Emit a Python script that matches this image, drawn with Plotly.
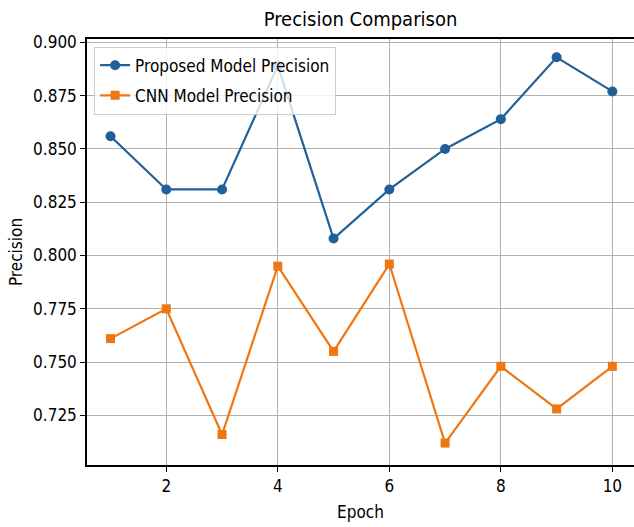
import plotly.graph_objects as go

epochs = [1, 2, 3, 4, 5, 6, 7, 8, 9, 10]
proposed_precision = [0.856, 0.831, 0.831, 0.889, 0.808, 0.831, 0.850, 0.864, 0.893, 0.877]
cnn_precision = [0.761, 0.775, 0.716, 0.795, 0.755, 0.796, 0.712, 0.748, 0.728, 0.748]
y_ticks = [0.725, 0.750, 0.775, 0.800, 0.825, 0.850, 0.875, 0.900]
x_ticks = [2, 4, 6, 8, 10]

FONT = "DejaVu Sans Condensed, Liberation Sans Narrow, DejaVu Sans, sans-serif"
BLUE = "#1f5f9a"
ORANGE = "#ef7610"

fig = go.Figure()
fig.add_trace(go.Scatter(
    x=epochs, y=proposed_precision, mode="lines+markers",
    name="Proposed Model Precision", legendgroup="a",
    line=dict(color=BLUE, width=2.2),
    marker=dict(symbol="circle", size=10, color=BLUE),
))
fig.add_trace(go.Scatter(
    x=epochs, y=cnn_precision, mode="lines+markers",
    name="CNN Model Precision", legendgroup="b",
    line=dict(color=ORANGE, width=2.2),
    marker=dict(symbol="square", size=9, color=ORANGE),
))

axis_common = dict(
    showline=True, linecolor="black", linewidth=1.5,
    ticks="outside", ticklen=5, tickcolor="black", tickwidth=1,
    showgrid=True, gridcolor="#b0b0b0", gridwidth=1,
    zeroline=False, tickfont=dict(family=FONT, size=17, color="black"),
)

fig.update_layout(
    width=634, height=527,
    margin=dict(l=87, r=0, t=39, b=62),
    paper_bgcolor="white", plot_bgcolor="white",
    font=dict(family=FONT, color="black"),
    title=dict(text="Precision Comparison", x=0.5, xref="paper", xanchor="center",
               y=1 - 19 / 527, yref="container", yanchor="middle",
               font=dict(family=FONT, size=20, color="black")),
    xaxis=dict(range=[0.578, 10.388], tickvals=x_ticks, mirror=True,
               title=dict(text="Epoch", font=dict(family=FONT, size=17), standoff=11),
               **axis_common),
    yaxis=dict(range=[0.7017, 0.9016], tickvals=y_ticks, tickformat=".3f", mirror=False,
               title=dict(text="Precision", font=dict(family=FONT, size=17), standoff=6),
               **axis_common),
    legend=dict(x=0.013, y=0.982, xanchor="left", yanchor="top",
                bgcolor="rgba(255,255,255,0.8)", bordercolor="#cccccc", borderwidth=1,
                font=dict(family=FONT, size=17, color="black"),
                tracegroupgap=5, itemwidth=30),
    showlegend=True,
)

fig.write_html("out.html")
